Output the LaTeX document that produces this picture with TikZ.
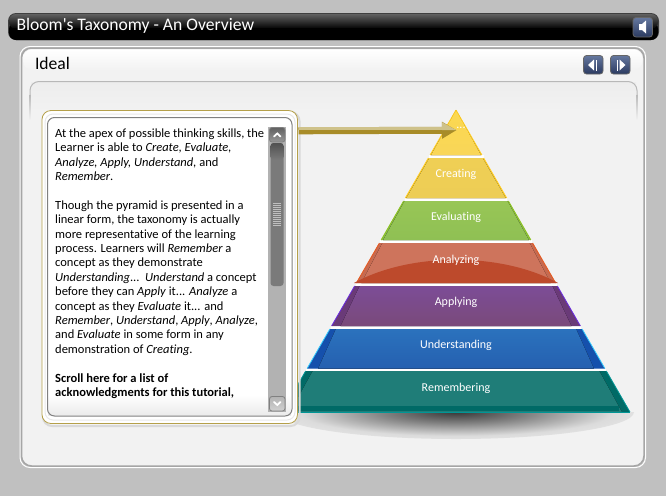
\documentclass[tikz,border=0pt]{standalone}
\usepackage{fontspec}
\setmainfont{Carlito}[Ligatures={TeXOff,NoCommon}]
\usetikzlibrary{arrows.meta}
\definecolor{backgrey}{HTML}{C0C0C0}
\definecolor{panelgrey}{HTML}{F2F2F2}
\definecolor{goldline}{HTML}{B5A04A}
\definecolor{golddark}{HTML}{A88C28}
\definecolor{goldlight}{HTML}{CFC28A}
\definecolor{btntop}{HTML}{66789F}
\definecolor{btnbot}{HTML}{2B3A60}
\definecolor{apexA}{HTML}{FBD850}
\definecolor{apexB}{HTML}{F9D658}
\definecolor{creatA}{HTML}{EFCF55}
\definecolor{creatB}{HTML}{EDCD55}
\definecolor{yellowedge}{HTML}{FFCC22}
\definecolor{evalA}{HTML}{98C656}
\definecolor{evalB}{HTML}{8FC054}
\definecolor{evalband}{HTML}{8ABC48}
\definecolor{evaledge}{HTML}{8CC41E}
\definecolor{anaA}{HTML}{CE745C}
\definecolor{anaarc}{HTML}{BD4A2C}
\definecolor{anaband}{HTML}{C76A50}
\definecolor{anaedge}{HTML}{E8581C}
\definecolor{appA}{HTML}{7C4C97}
\definecolor{appB}{HTML}{7A4A7A}
\definecolor{appband}{HTML}{6A3A78}
\definecolor{appedge}{HTML}{6A2BE0}
\definecolor{undA}{HTML}{2B72BD}
\definecolor{undB}{HTML}{2560B0}
\definecolor{undband}{HTML}{1550AC}
\definecolor{undedge}{HTML}{33CCFF}
\definecolor{remA}{HTML}{1F7D78}
\definecolor{remband}{HTML}{006A66}
\definecolor{remedge}{HTML}{009696}
\pgfdeclareradialshading{droppool}{\pgfpoint{0bp}{0bp}}{color(0bp)=(black!78); color(10bp)=(black!50); color(22bp)=(black!14); color(34bp)=(panelgrey); color(50bp)=(panelgrey)}
\tikzset{
	button/.style={draw=black!60, line width=0.8pt, rounded corners=3pt, top color=btntop, bottom color=btnbot},
	icon/.style={fill=white, draw=none},
	layertext/.style={text=white, font=\fontsize{12}{14}\selectfont},
	scrollbtn/.style={draw=black!50, line width=0.8pt, rounded corners=2.5pt},
}
% layer: top y, bottom y, inset top, inset bottom, band, inner top, inner bottom, edge
\newcommand{\pyrlayer}[8]{
	\pgfmathsetmacro{\wt}{0.576*(#1-110)}
	\pgfmathsetmacro{\wb}{0.576*(#2-110)}
	\fill[#5] (456-\wt,#1)--(456+\wt,#1)--(456+\wb,#2)--(456-\wb,#2)--cycle;
	\fill[top color=#6, bottom color=#7] (456-\wt+#3,#1)--(456+\wt-#3,#1)--(456+\wb-#4,#2)--(456-\wb+#4,#2)--cycle;
	\draw[#8, line width=0.8pt] (456-\wt,#1)--(456-\wb,#2) (456+\wt,#1)--(456+\wb,#2);
}
\begin{document}
\begin{tikzpicture}[x=1pt,y=-1pt]
	\useasboundingbox (0,0) rectangle (666,496);
	\fill[backgrey] (0,0) rectangle (666,496);

	% title bar
	\fill[black!75, rounded corners=8pt] (8,13) rectangle (659,40);
	\fill[black, rounded corners=7pt] (9,22) rectangle (658,40);
	\shade[top color=black!62, bottom color=black, rounded corners=7pt] (9,14) rectangle (658,29);
	\fill[black] (9,28) rectangle (658,33);
	\node[anchor=west, text=white, font=\fontsize{17.6}{20}\selectfont] at (13,26)(title){Bloom's Taxonomy - An Overview};
	\draw[button] (633,17.5) rectangle (652.5,37);
	\fill[icon] (639,24)--(642,24)--(646,20.5)--(646,33.5)--(642,30)--(639,30)--cycle;

	% panel
	\draw[white, line width=1pt, rounded corners=10pt] (20,46.5) rectangle (645.5,467.5);
	\draw[black!35, line width=1.5pt, fill=panelgrey, rounded corners=10pt] (21.5,48) rectangle (644,466);
	\shade[top color=white, bottom color=panelgrey, rounded corners=9pt] (23,49.5) -- (642.5,49.5) -- (642.5,70) -- (23,70) -- cycle;
	\fill[panelgrey] (23,70) rectangle (642.5,81);
	\node[anchor=west, font=\fontsize{17.6}{20}\selectfont] at (31.5,63.5)(ideal){Ideal};

	% buttons
	\draw[button] (583.5,55.5) rectangle (603,74);
	\fill[icon] (588,65)--(594,59.5)--(594,70.5)--cycle;
	\fill[icon] (595.5,59.5) rectangle (597,70.5);
	\draw[button] (610.5,55.5) rectangle (630,74);
	\fill[icon] (625.5,65)--(619.5,59.5)--(619.5,70.5)--cycle;
	\fill[icon] (616.5,59.5) rectangle (618,70.5);

	% inner area
	\shade[top color=black!7, bottom color=panelgrey] (31,82) rectangle (636,112);
	\draw[black!28, line width=1pt, rounded corners=9pt] (30,94)--(30,81.5)--(637,81.5)--(637,94);
	\shade[top color=black!28, bottom color=panelgrey] (29.5,94) rectangle (30.5,120);
	\shade[top color=black!28, bottom color=panelgrey] (636.5,94) rectangle (637.5,120);

	% shadow under the pyramid
	\begin{scope}
		\clip (270,412.5) rectangle (640,445);
		\shade[shading=droppool] (456,412) ellipse (178 and 27);
	\end{scope}

	% pyramid
	\fill[white] (456-27.5,155) rectangle (456+27.5,158);
	\fill[white] (456-51,198) rectangle (456+51,201);
	\fill[white] (456-76,240) rectangle (456+76,243);
	\fill[white] (456-100.5,283) rectangle (456+100.5,286);
	\fill[white] (456-125,326) rectangle (456+125,329);
	\fill[white] (456-150,368.5) rectangle (456+150,371);
	\pyrlayer{110}{155}{0}{1}{yellowedge}{apexA}{apexB}{yellowedge}
	\pyrlayer{158}{198}{1}{1}{yellowedge}{creatA}{creatB}{yellowedge}
	\pyrlayer{201}{240}{1}{2}{evalband}{evalA}{evalB}{evaledge}
	\pyrlayer{243}{283}{3}{5}{anaband}{anaA}{anaA}{anaedge}
	\fill[anaarc] (456-102,283) .. controls (410,252) and (502,252) .. (456+102,283) -- cycle;
	\pyrlayer{286}{326}{5}{9}{appband}{appA}{appB}{appedge}
	\pyrlayer{329}{368.5}{6}{11}{undband}{undA}{undB}{undedge}
	\pyrlayer{371}{412}{7}{8}{remband}{remA}{remA}{remedge}
	\fill[remband] (293,405.5) rectangle (619,411);
	\draw[remedge, line width=1pt] (282,412)--(630,412);

	\node[layertext] at (456,174)(creating){Creating};
	\node[layertext] at (456,217)(evaluating){Evaluating};
	\node[layertext] at (456,260)(analyzing){Analyzing};
	\node[layertext] at (456,302)(applying){Applying};
	\node[layertext] at (456,345)(understanding){Understanding};
	\node[layertext] at (456,388)(remembering){Remembering};
	\node[layertext] at (461,128)(apex){...};

	% text box
	\draw[black!15, line width=2pt, rounded corners=9pt] (43,112) rectangle (299.5,426);
	\draw[goldline, line width=0.8pt, fill=white, rounded corners=9pt] (42,110.5) rectangle (297.5,423.5);
	\shade[top color=white, bottom color=black!8] (48,395) rectangle (291,415);
	\draw[black!9, line width=1pt, rounded corners=8pt] (45,114) rectangle (295,420);
	\draw[black!50, line width=1pt, rounded corners=7pt] (47.5,117.5) rectangle (292,416);
	\fill[black!30] (268,127) rectangle (286,412);
	\node[anchor=north west, align=left, inner sep=0pt, font=\fontsize{12.5}{14.4}\selectfont] at (55,128.5)(bodytext){At the apex of possible thinking skills, the\\
		Learner is able to \textit{Create, Evaluate,}\\
		\textit{Analyze, Apply, Understand,} and\\
		\textit{Remember}.\\[14.4pt]
		Though the pyramid is presented in a\\
		linear form, the taxonomy is actually\\
		more representative of the learning\\
		process. Learners will \textit{Remember} a\\
		concept as they demonstrate\\
		\textit{Understanding}...\ \ \textit{Understand} a concept\\
		before they can \textit{Apply} it... \textit{Analyze} a\\
		concept as they \textit{Evaluate} it... and\\
		\textit{Remember}, \textit{Understand}, \textit{Apply}, \textit{Analyze},\\
		and \textit{Evaluate} in some form in any\\
		demonstration of \textit{Creating}.\\[14.4pt]
		\textbf{Scroll here for a list of}\\
		\textbf{acknowledgments for this tutorial,}};

	% scroll bar
	\fill[black!52, rounded corners=3pt] (270.5,143) rectangle (283.5,286);
	\shade[top color=black!68, bottom color=black!52, rounded corners=3pt] (270.5,143) rectangle (283.5,160);
	\foreach \y in {203,205,...,225} \draw[white!75!black, line width=0.7pt] (273,\y) -- (281,\y);
	\draw[scrollbtn, top color=black!62, bottom color=black!40] (269.5,127.5) rectangle (285,142);
	\draw[white, line width=1.8pt, line cap=round] (274,136.5)--(277.3,133.5)--(280.5,136.5);
	\draw[scrollbtn, top color=black!30, bottom color=black!18] (269.5,396.5) rectangle (285,411);
	\draw[white, line width=1.8pt, line cap=round] (274,402)--(277.3,405)--(280.5,402);

	% arrow
	\coordinate (boxedge) at (298.5,130.8);
	\coordinate (tip) at (456.5,130.2);
	\draw[golddark, line width=7pt, -{Triangle[length=14.5pt,width=16pt,fill=golddark]}] (boxedge) -- (tip);
	\fill[goldlight] (298.5,127.3) rectangle (442,130.3);
	\fill[goldlight] (442,122.2)--(456.5,130.2)--(442,130.2)--cycle;
\end{tikzpicture}
\end{document}
